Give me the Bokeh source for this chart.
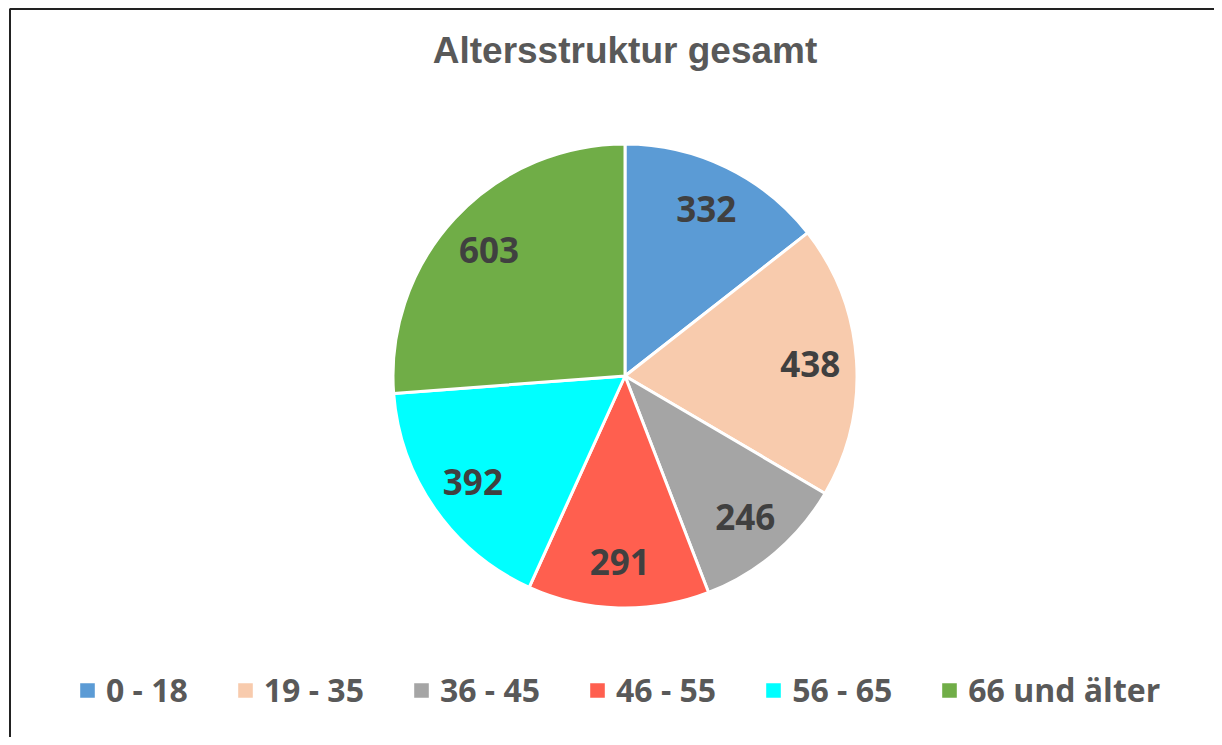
import numpy as np
from bokeh.plotting import figure
from bokeh.models import ColumnDataSource, Range1d, Label, Legend, LegendItem, PolyAnnotation
from bokeh.embed import file_html
from bokeh.resources import INLINE
from bokeh.core.properties import value

# ---- data ----
categories = ["0 - 18", "19 - 35", "36 - 45", "46 - 55", "56 - 65", "66 und älter"]
counts = [332, 438, 246, 291, 392, 603]
colors = ["#5B9BD5", "#F8CBAD", "#A5A5A5", "#FF5F4F", "#00FFFF", "#70AD47"]
title_text = "Altersstruktur gesamt"

# ---- layout constants (pixel-like data space, y measured upward) ----
W, H = 1214, 737
CX, CY, R = 624.5, 361.5, 232
LABEL_R = 0.8

vals = np.array(counts, dtype=float)
frac = vals / vals.sum()
cum = np.concatenate([[0.0], np.cumsum(frac)])
start = np.pi / 2 - 2 * np.pi * cum[:-1]
end = np.pi / 2 - 2 * np.pi * cum[1:]
mid = (start + end) / 2

src = ColumnDataSource(dict(
    cat=categories, val=counts, color=colors,
    start=start, end=end,
    lx=CX + LABEL_R * R * np.cos(mid),
    ly=CY + LABEL_R * R * np.sin(mid),
    txt=[str(v) for v in counts],
))

p = figure(width=W, height=H, output_backend="svg", toolbar_location=None,
           x_range=Range1d(0, W), y_range=Range1d(0, H),
           x_axis_type=None, y_axis_type=None, min_border=0)
p.grid.visible = False
p.outline_line_color = None
p.background_fill_color = "white"
p.border_fill_color = "white"

wedges = p.wedge(x=CX, y=CY, radius=R, radius_units="screen",
                 start_angle="start", end_angle="end", direction="clock",
                 fill_color="color", line_color="white", line_width=3, source=src)

p.text(x="lx", y="ly", text="txt", source=src,
       text_font=value("Open Sans"), text_font_style="bold", text_font_size="35px",
       text_color="#404040", text_align="center", text_baseline="middle")

p.add_layout(Label(x=CX, y=H - 50, text=title_text, text_font="Liberation Sans",
                   text_font_style="bold", text_font_size="37px", text_color="#595959",
                   text_align="center", text_baseline="middle"))

# chart border (only top and left edges visible in reference; others run off-canvas)
BL, BT = 9.5, H - 8.5
p.add_layout(PolyAnnotation(xs=[BL, BL, W + 400, W + 400], ys=[-400, BT, BT, -400],
                            fill_alpha=0, line_color="#222222", line_alpha=1, line_width=2))

items = [LegendItem(label=c, renderers=[wedges], index=i) for i, c in enumerate(categories)]
legend = Legend(items=items, orientation="horizontal", location=(76, 26),
                glyph_width=22, glyph_height=22, label_standoff=8, spacing=46,
                padding=0, margin=0, border_line_alpha=0, background_fill_alpha=0,
                label_text_font="Open Sans", label_text_font_style="bold",
                label_text_font_size="32px", label_text_color="#595959")
p.add_layout(legend)

open("out.html", "w").write(file_html(p, INLINE))
